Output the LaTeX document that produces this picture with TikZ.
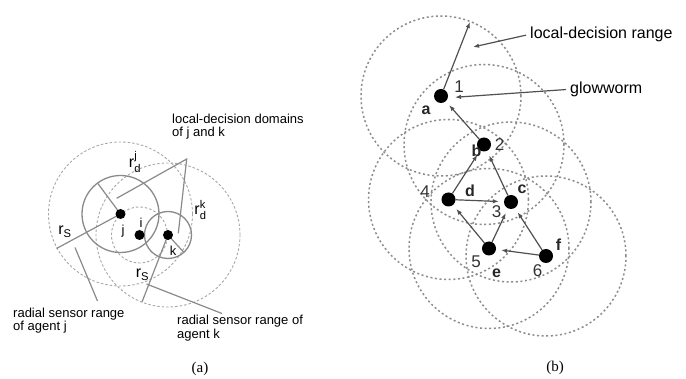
\documentclass[tikz,border=0pt]{standalone}
\usepackage{amsmath}
\usepackage{fontspec}
\setmainfont{Liberation Sans}
\newfontfamily\capfont{Liberation Serif}
\usetikzlibrary{arrows.meta}
\definecolor{lineA}{HTML}{8A8A8A}
\definecolor{dashA}{HTML}{A6A6A6}
\definecolor{dashB}{HTML}{8C8C8C}
\definecolor{arrB}{HTML}{505050}
\begin{document}
\begin{tikzpicture}[x=1pt,y=-1pt,
  dotA/.style={circle,fill=black,inner sep=0pt,minimum size=10pt},
  dotB/.style={circle,fill=black,inner sep=0pt,minimum size=14pt},
  solidring/.style={draw=lineA,line width=1.3pt},
  dashring/.style={draw=dashA,line width=0.9pt,dash pattern=on 2.5pt off 2pt},
  dotring/.style={draw=dashB,line width=1.5pt,dash pattern=on 2pt off 2.6pt},
  leader/.style={draw=lineA,line width=1.2pt},
  txtA/.style={font=\fontsize{13}{14}\selectfont,inner sep=0pt},
  rlab/.style={font=\fontsize{16}{17}\selectfont,inner sep=0pt},
  txtB/.style={font=\fontsize{16}{17}\selectfont,inner sep=0pt},
  numlab/.style={font=\fontsize{17}{18}\selectfont,inner sep=0pt,text=black!80},
  letlab/.style={font=\fontsize{16}{17}\selectfont\bfseries,inner sep=0pt,text=black!85},
  flow/.style={draw=arrB,line width=1.2pt,-{Latex[length=6pt,width=4.5pt]},shorten >=5pt},
  capt/.style={font=\capfont\fontsize{15}{16}\selectfont,inner sep=0pt}
]
\useasboundingbox (0,0) rectangle (686,379);

% ---------------- (a) ----------------
\coordinate (cj) at (120.5,214);
\coordinate (ci) at (139.5,235);
\coordinate (ck) at (168,235);
\draw[dashring] (cj) circle[radius=72pt];
\draw[dashring] (ck) circle[radius=72pt];
\draw[dashring] (ci) circle[radius=28pt];
\draw[solidring] (cj) circle[radius=38.5pt];
\draw[solidring] (ck) circle[radius=23.5pt];

\coordinate (rdjEnd) at (97.5,183);
\coordinate (rsjEnd) at (56.5,248.5);
\coordinate (rdkEnd) at (183.5,252);
\coordinate (rskEnd) at (142,302);
\coordinate (apex) at (186.7,159);
\coordinate (apexL) at (116.7,198.3);
\coordinate (apexR) at (178.3,233.3);
\coordinate (ljA) at (75,247.5);
\coordinate (ljB) at (97.5,301);
\coordinate (lkA) at (146.5,284);
\coordinate (lkB) at (222,313.5);

\draw[leader] (cj) -- (rdjEnd);
\draw[leader] (cj) -- (rsjEnd);
\draw[leader] (ck) -- (rdkEnd);
\draw[leader] (ck) -- (rskEnd);
\draw[leader] (apexL) -- (apex) -- (apexR);
\draw[leader] (ljA) -- (ljB);
\draw[leader] (lkA) -- (lkB);

\node[dotA] (j) at (cj) {};
\node[dotA] (i) at (ci) {};
\node[dotA] (k) at (ck) {};

\node[txtA] (lj) at (123,231) {j};
\node[txtA] (li) at (141,223) {i};
\node[txtA] (lk) at (173,251) {k};

\node[rlab] (rsj) at (65,232) {$\text{r}_{\text{S}}$};
\node[rlab] (rsk) at (142.5,275) {$\text{r}_{\text{S}}$};
\node[rlab] (rdj) at (135,162) {$\text{r}^{\text{j}}_{\text{d}}$};
\node[rlab] (rdk) at (200.5,210) {$\text{r}^{\text{k}}_{\text{d}}$};

\node[txtA,anchor=base west] (ldd1) at (172,123.5) {local-decision domains};
\node[txtA,anchor=base west] (ldd2) at (172,137) {of j and k};
\node[txtA,anchor=base west] (rsrj1) at (13,317.5) {radial sensor range};
\node[txtA,anchor=base west] (rsrj2) at (13,331) {of agent j};
\node[txtA,anchor=base west] (rsrk1) at (177,325) {radial sensor range of};
\node[txtA,anchor=base west] (rsrk2) at (177,338.5) {agent k};

\node[capt] (capa) at (200,369) {(a)};

% ---------------- (b) ----------------
\coordinate (pa) at (441,96);
\coordinate (pb) at (484,144.5);
\coordinate (pd) at (448.5,199.5);
\coordinate (pc) at (511,202);
\coordinate (pe) at (489,248.5);
\coordinate (pf) at (546,256);
\foreach \p in {pa,pb,pc,pd,pe,pf}{\draw[dotring] (\p) circle[radius=80pt];}

\node[dotB] (a) at (pa) {};
\node[dotB] (b) at (pb) {};
\node[dotB] (d) at (pd) {};
\node[dotB] (c) at (pc) {};
\node[dotB] (e) at (pe) {};
\node[dotB] (f) at (pf) {};

\coordinate (rtip) at (470,22);
\draw[flow,shorten >=0pt] (a) -- (rtip);
\draw[flow] (b) -- (a);
\draw[flow] (d) -- (b);
\draw[flow] (c) -- (b);
\draw[flow] (d) -- (c);
\draw[flow] (e) -- (d);
\draw[flow] (e) -- (c);
\draw[flow] (f) -- (c);
\draw[flow] (f) -- (e);

\node[txtB,anchor=base west] (ldr) at (530,38.4) {local-decision range};
\node[txtB,anchor=base west] (gw) at (570,93.4) {glowworm};
\coordinate (ldrtip) at (473,47);
\coordinate (gwtip) at (455,97.3);
\draw[flow,shorten >=0pt,shorten <=4pt] (ldr.west) -- (ldrtip);
\draw[flow,shorten >=0pt,shorten <=4pt] (gw.west) -- (gwtip);

\node[numlab] (n1) at (459,87) {1};
\node[letlab] (la) at (426,110) {a};
\node[letlab] (lb) at (476.5,150.5) {b};
\node[numlab] (n2) at (499.5,145) {2};
\node[numlab] (n4) at (425,191.5) {4};
\node[letlab] (ld) at (470,191) {d};
\node[letlab] (lc) at (522,189.5) {c};
\node[numlab] (n3) at (496.5,212) {3};
\node[numlab] (n5) at (476,262) {5};
\node[letlab] (le) at (496.5,273.5) {e};
\node[numlab] (n6) at (537.5,271) {6};
\node[letlab] (lf) at (558.5,244.5) {f};

\node[capt] (capb) at (555,368) {(b)};
\end{tikzpicture}
\end{document}
